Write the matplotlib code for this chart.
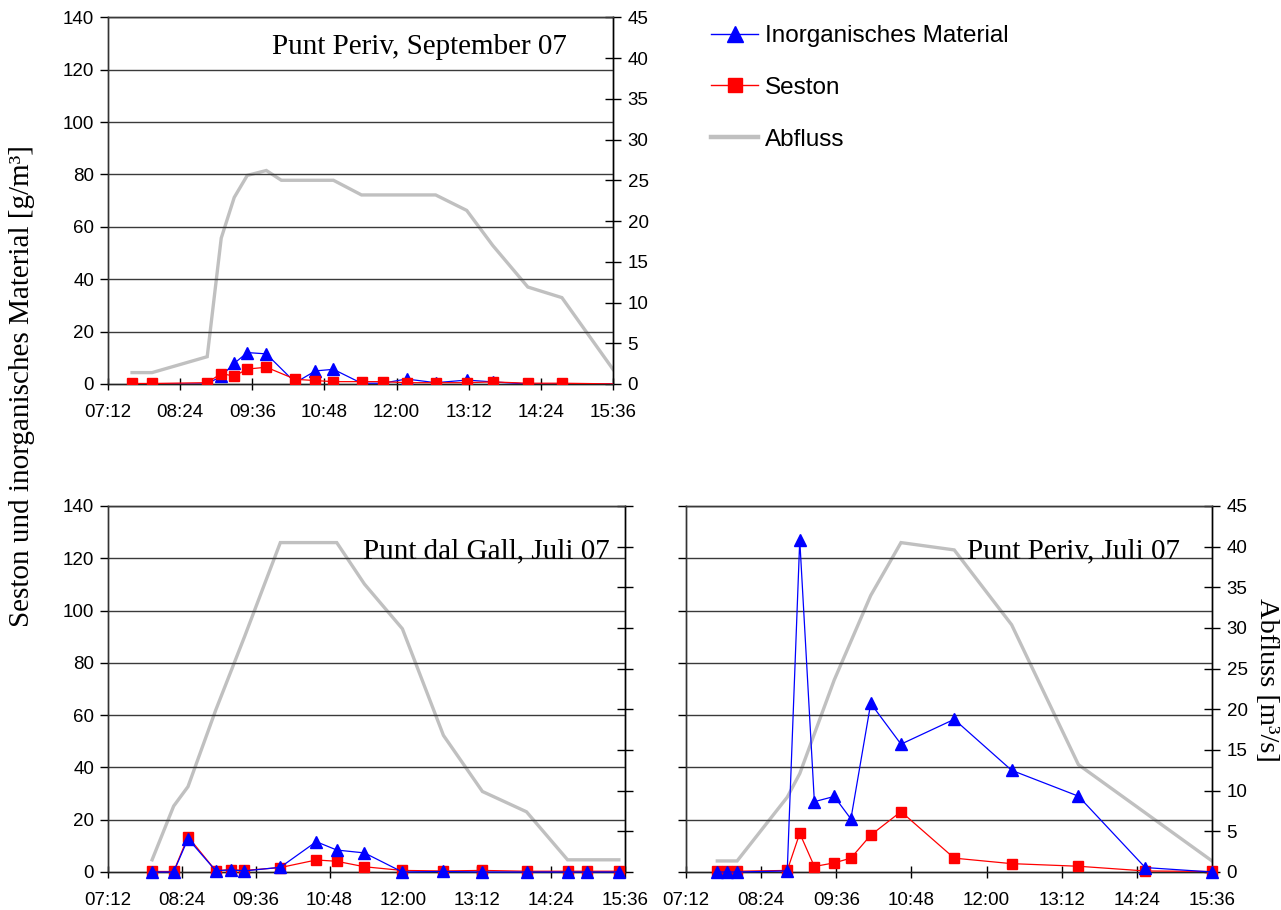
import matplotlib
matplotlib.use("Agg")
import matplotlib.pyplot as plt
from matplotlib.lines import Line2D
from matplotlib.ticker import FixedLocator, FuncFormatter

# ---------------- data ----------------
# Panel 1: Punt Periv, September 07
sep_times = ["07:36", "07:56", "08:51", "09:05", "09:18", "09:31", "09:50", "10:19", "10:39",
             "10:57", "11:25", "11:46", "12:10", "12:39", "13:10", "13:36", "14:11", "14:45", "15:45"]
sep_inorg = [0, 0, 0, 3, 7.9, 12, 11.5, 0.5, 5, 5.6, 0.3, 0.3, 1.9, 0.5, 1.5, 0.8, 0, 0, 0]
sep_seston = [0.2, 0.2, 0.5, 4, 3, 5.7, 6.4, 1.8, 1.3, 0.9, 0.9, 0.9, 0.5, 0.5, 0.5, 0.8, 0.3, 0.3, 0]
sep_q_times = ["07:36", "07:56", "08:51", "09:05", "09:18", "09:31", "09:50", "10:05", "10:57",
               "11:25", "12:39", "13:10", "13:36", "14:11", "14:45", "15:36"]
sep_q = [1.4, 1.4, 3.35, 17.9, 22.9, 25.6, 26.2, 25.0, 25.0, 23.2, 23.2, 21.3, 17.0, 11.9, 10.6, 1.8]

# Panel 2: Punt dal Gall, Juli 07
gall_times = ["07:55", "08:16", "08:30", "08:57", "09:12", "09:25", "10:00", "10:35", "10:55",
              "11:22", "11:59", "12:39", "13:17", "14:00", "14:40", "14:59", "15:30"]
gall_inorg = [0, 0, 12.7, 0.5, 0.8, 0.4, 1.8, 11.6, 8.4, 7.3, 0, 0.2, 0, 0, 0, 0, 0]
gall_seston = [0.2, 0.2, 13.5, 0.5, 0.9, 0.6, 1.7, 4.6, 4.1, 2.0, 0.6, 0.4, 0.6, 0.3, 0.3, 0.3, 0.3]
gall_q_times = ["07:55", "08:16", "08:30", "08:57", "09:25", "10:00", "10:55", "11:22", "11:59",
                "12:39", "13:17", "14:00", "14:40", "15:30"]
gall_q = [1.5, 8.1, 10.5, 19.9, 28.9, 40.5, 40.5, 35.4, 29.9, 16.8, 9.9, 7.4, 1.5, 1.5]

# Panel 3: Punt Periv, Juli 07
jul_times = ["07:42", "07:51", "08:01", "08:49", "09:01", "09:15", "09:34", "09:50", "10:09",
             "10:38", "11:29", "12:24", "13:28", "14:32", "15:36"]
jul_inorg = [0, 0, 0, 0.4, 127, 26.9, 28.9, 20.3, 64.5, 48.9, 58.4, 38.9, 29.0, 1.7, 0]
jul_seston = [0.3, 0.3, 0.3, 0.6, 14.8, 2.1, 3.5, 5.3, 14.1, 23.1, 5.3, 3.2, 2.2, 0.4, 0.2]
jul_q_times = ["07:42", "08:01", "08:49", "09:01", "09:34", "10:09", "10:38", "11:29", "12:24",
               "13:28", "15:36"]
jul_q = [1.36, 1.36, 9.2, 12.1, 23.6, 34.0, 40.5, 39.6, 30.4, 13.2, 1.36]

x_ticks = ["07:12", "08:24", "09:36", "10:48", "12:00", "13:12", "14:24", "15:36"]
left_ticks = [0, 20, 40, 60, 80, 100, 120, 140]
right_ticks = [0, 5, 10, 15, 20, 25, 30, 35, 40, 45]

titles = ["Punt Periv, September 07", "Punt dal Gall, Juli 07", "Punt Periv, Juli 07"]
legend_labels = ["Inorganisches Material", "Seston", "Abfluss"]
ylabel_left = "Seston und inorganisches Material [g/m³]"
ylabel_right = "Abfluss [m³/s]"


def to_min(s):
    h, m = s.split(":")
    return int(h) * 60 + int(m)


def fmt_time(v, pos=None):
    v = int(round(v))
    return "%02d:%02d" % (v // 60, v % 60)


SANS = ["Liberation Sans", "DejaVu Sans"]
SERIF = ["Liberation Serif", "DejaVu Serif"]
plt.rcParams["font.family"] = SANS

W, H = 1281, 910
fig = plt.figure(figsize=(W / 100, H / 100), dpi=100)


def rect(l, r, t, b):
    return [l / W, 1 - b / H, (r - l) / W, (b - t) / H]


BLUE = "#0000ff"
RED = "#ff0000"
GRAY = "#c0c0c0"


def make_panel(box, times, inorg, seston, qt, q, title, title_xy,
               left_labels, right_labels, seston_on_top, clip_end):
    ax = fig.add_axes(rect(*box))
    axr = ax.twinx()
    ax.set_zorder(axr.get_zorder() + 1)
    ax.patch.set_visible(False)

    xm = [to_min(t) for t in times]
    qm = [to_min(t) for t in qt]

    axr.plot(qm, q, color=GRAY, lw=2.4, solid_joinstyle="miter", zorder=2)

    zi, zs = (3, 4) if seston_on_top else (4, 3)
    ax.plot(xm, inorg, color=BLUE, lw=0.9, marker="^", ms=8.5, mec=BLUE, mfc=BLUE,
            zorder=zi, clip_on=clip_end)
    ax.plot(xm, seston, color=RED, lw=0.9, marker="s", ms=7.5, mec=RED, mfc=RED,
            zorder=zs, clip_on=clip_end)

    xmin, xmax = to_min(x_ticks[0]), to_min(x_ticks[-1])
    ax.set_xlim(xmin, xmax)
    ax.set_ylim(0, 140)
    axr.set_ylim(0, 45)

    ax.xaxis.set_major_locator(FixedLocator([to_min(t) for t in x_ticks]))
    ax.xaxis.set_major_formatter(FuncFormatter(fmt_time))
    ax.yaxis.set_major_locator(FixedLocator(left_ticks))
    axr.yaxis.set_major_locator(FixedLocator(right_ticks))

    for v in left_ticks[1:]:
        ax.axhline(v, color="#3a3a3a", lw=1.0, zorder=1)

    ax.tick_params(axis="x", direction="inout", length=9, width=1, labelsize=13.5, pad=10)
    ax.tick_params(axis="y", direction="out", length=6, width=1, labelsize=13.5, pad=4,
                   labelleft=left_labels)
    axr.tick_params(axis="y", direction="inout", length=11, width=1, labelsize=13.5, pad=5,
                    labelright=right_labels)

    for a in (ax, axr):
        for s in a.spines.values():
            s.set_linewidth(1.0)
        a.spines["top"].set_color("#3a3a3a")
        a.spines["left"].set_color("#333333")
        a.spines["bottom"].set_color("#222222")
        a.spines["right"].set_color("black")

    fig.text(title_xy[0] / W, 1 - title_xy[1] / H, title, ha="right", va="center",
             fontsize=21, family=SERIF)
    return ax, axr


make_panel((108, 613, 17.3, 384), sep_times, sep_inorg, sep_seston, sep_q_times, sep_q,
           titles[0], (567, 47), True, True, True, True)
make_panel((108, 625, 506, 872), gall_times, gall_inorg, gall_seston, gall_q_times, gall_q,
           titles[1], (610, 551), True, False, False, False)
make_panel((686, 1212, 506, 872), jul_times, jul_inorg, jul_seston, jul_q_times, jul_q,
           titles[2], (1180, 551), False, True, False, False)

fig.text(22 / W, 1 - 386 / H, ylabel_left, rotation=90, ha="center", va="center",
         fontsize=21, family=SERIF)
fig.text(1266 / W, 1 - 680 / H, ylabel_right, rotation=270, ha="center", va="center",
         fontsize=20.5, family=SERIF)

handles = [
    Line2D([], [], color=BLUE, lw=1.0, marker="^", ms=11, mfc=BLUE, mec=BLUE),
    Line2D([], [], color=RED, lw=1.0, marker="s", ms=9.5, mfc=RED, mec=RED),
    Line2D([], [], color=GRAY, lw=3.2),
]
fig.legend(handles, legend_labels, loc="upper left", bbox_to_anchor=(711 / W, 1 - 25 / H),
           frameon=False, fontsize=17.5, handlelength=1.95, handletextpad=0.28,
           labelspacing=1.23, borderaxespad=0, borderpad=0)

fig.savefig("out.png", dpi=100)
